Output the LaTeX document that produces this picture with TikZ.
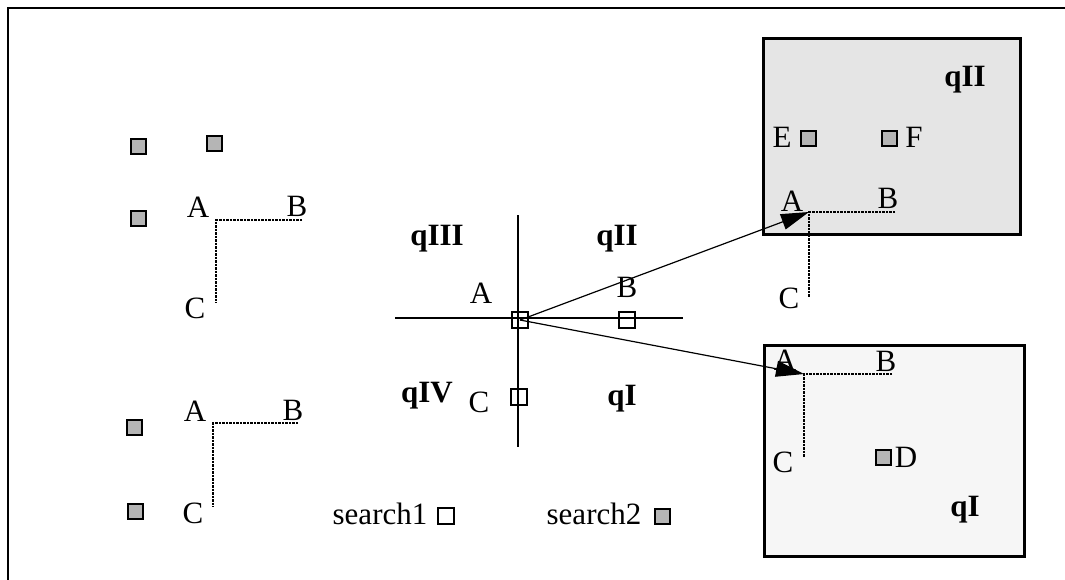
\documentclass[tikz,border=0pt]{standalone}
\usepackage{fontspec}
\setmainfont{Liberation Serif}
\usetikzlibrary{arrows.meta}
\tikzset{
  lbl/.style={inner sep=0pt, font=\fontsize{31}{37}\selectfont},
  blbl/.style={inner sep=0pt, font=\fontsize{31}{37}\selectfont\bfseries},
  graysq/.style={draw, line width=2pt, fill=black!29, minimum size=15pt, inner sep=0pt},
  whitesq/.style={draw, line width=1.8pt, minimum size=16pt, inner sep=0pt},
  dotl/.style={line width=1.6pt, dash pattern=on 2.5pt off 1pt},
  axis/.style={line width=1.6pt},
  arr/.style={line width=1.2pt, -{Triangle[length=28pt,width=16pt]}},
  qbox/.style={draw, line width=2.6pt},
}
\begin{document}
\begin{tikzpicture}[x=1pt,y=-1pt]
\useasboundingbox (0,0) rectangle (1065,579);
% outer frame
\coordinate (fbl) at (8,590);
\coordinate (ftl) at (8,8);
\coordinate (ftr) at (1075,8);
\draw[line width=2pt] (fbl) -- (ftl) -- (ftr);

% ---- upper-left group
\node[graysq] (s1) at (138,146) {};
\node[graysq] (s2) at (214,143) {};
\node[graysq] (s3) at (138,218) {};
\node[lbl] (la1) at (198,207) {A};
\node[lbl] (lb1) at (297,206) {B};
\node[lbl] (lc1) at (195,308) {C};
\coordinate (k1) at (216,220);
\coordinate (kb1) at (302,220);
\coordinate (kc1) at (216,303);
\draw[dotl] (kb1) -- (k1) -- (kc1);

% ---- lower-left group
\node[graysq] (s4) at (134,427) {};
\node[graysq] (s5) at (135,511) {};
\node[lbl] (la2) at (195,411) {A};
\node[lbl] (lb2) at (293,410) {B};
\node[lbl] (lc2) at (193,513) {C};
\coordinate (k2) at (213,423);
\coordinate (kb2) at (298,423);
\coordinate (kc2) at (213,507);
\draw[dotl] (kb2) -- (k2) -- (kc2);

% ---- middle axes
\coordinate (vt) at (518,215);
\coordinate (vb) at (518,447);
\coordinate (hl) at (395,318);
\coordinate (hr) at (683,318);
\draw[axis] (vt) -- (vb);
\draw[axis] (hl) -- (hr);
\node[whitesq] (m0) at (520,320) {};
\node[whitesq] (mb) at (627,320) {};
\node[whitesq] (mc) at (519,397) {};
\node[blbl] (q3) at (437,239) {qIII};
\node[blbl] (q2) at (617,239) {qII};
\node[lbl] (ma) at (481,293) {A};
\node[lbl] (mbl) at (627,287) {B};
\node[blbl] (q4) at (427,396) {qIV};
\node[lbl] (mcl) at (479,402) {C};
\node[blbl] (q1) at (622,399) {qI};

% ---- upper-right box
\node[qbox, fill=black!10, minimum width=257pt, minimum height=196pt, anchor=north west, inner sep=0pt] (ub) at (762,37) {};
\node[blbl] (uq) at (965,80) {qII};
\node[lbl] (ue) at (782,137) {E};
\node[graysq] (use) at (808,138) {};
\node[graysq] (usf) at (889,138) {};
\node[lbl] (uf) at (914,137) {F};
\node[lbl] (ua) at (792,201) {A};
\node[lbl] (ubl) at (888,198) {B};
\node[lbl] (uc) at (789,298) {C};
\coordinate (k3) at (809,212);
\coordinate (kb3) at (895,212);
\coordinate (kc3) at (809,297);
\draw[dotl] (kb3) -- (k3) -- (kc3);

% ---- lower-right box
\node[qbox, fill=black!3.5, minimum width=260pt, minimum height=211pt, anchor=north west, inner sep=0pt] (lb) at (763,344) {};
\node[lbl] (la) at (785,360) {A};
\node[lbl] (lbb) at (886,361) {B};
\node[lbl] (lc) at (783,462) {C};
\node[graysq] (lsd) at (883,457) {};
\node[lbl] (ld) at (906,457) {D};
\node[blbl] (lq) at (965,510) {qI};
\coordinate (k4) at (804,374);
\coordinate (kb4) at (892,374);
\coordinate (kc4) at (804,457);
\draw[dotl] (kb4) -- (k4) -- (kc4);

% ---- arrows
\draw[arr] (m0.center) -- (k3);
\draw[arr] (m0.center) -- (k4);

% ---- legend
\node[lbl] (sr1) at (380,514) {search1};
\node[whitesq] (ls1) at (446,516) {};
\node[lbl] (sr2) at (594,514) {search2};
\node[graysq] (ls2) at (662,516) {};
\end{tikzpicture}
\end{document}
